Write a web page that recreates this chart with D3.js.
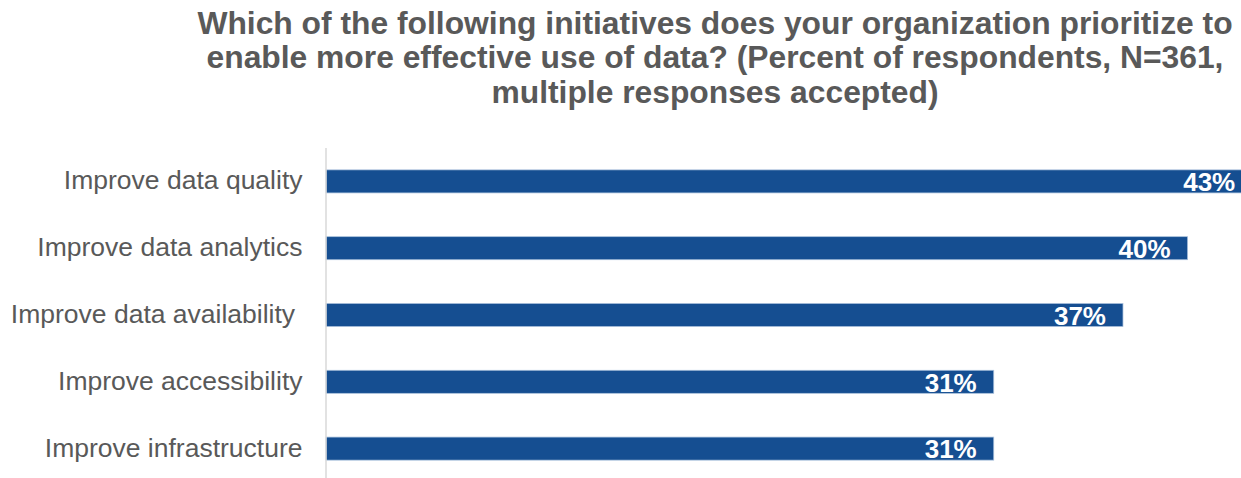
<!DOCTYPE html>
<html>
<head>
<meta charset="utf-8">
<script src="https://cdn.jsdelivr.net/npm/d3@7"></script>
<style>
  body { margin: 0; background: #fff; }
  svg { display: block; font-family: "Liberation Sans", Arial, sans-serif; }
</style>
</head>
<body>
<svg id="chart" width="1241" height="478"></svg>
<script>
var categories = [
	"Improve data quality",
	"Improve data analytics",
	"Improve data availability ",
	"Improve accessibility",
	"Improve infrastructure"
];
var values = [43, 40, 37, 31, 31];
var titleLines = [
	"Which of the following initiatives does your organization prioritize to",
	"enable more effective use of data? (Percent of respondents, N=361,",
	"multiple responses accepted)"
];

var svg = d3.select("#chart");
var x0 = 326;

var xScale = d3.scaleLinear()
			.domain([0, 50])
			.range([x0, x0 + 1077]);

var yScale = d3.scaleBand()
			.domain(categories)
			.range([148, 482])
			.paddingInner(0.655)
			.paddingOuter(0.3275);

// title
svg.append("g")
	.selectAll("text")
	.data(titleLines)
	.enter().append("text")
	.attr("x", 715)
	.attr("y", function(d, i){ return 34.3 + i * 34.1; })
	.attr("text-anchor", "middle")
	.attr("font-size", "31.8px")
	.attr("font-weight", "bold")
	.attr("fill", "#595959")
	.text(function(d){ return d; });

// bars
svg.append("g")
	.selectAll("rect")
	.data(values)
	.enter().append("rect")
	.attr("x", xScale(0))
	.attr("y", function(d, i){ return yScale(categories[i]); })
	.attr("width", function(d){ return xScale(d) - xScale(0); })
	.attr("height", yScale.bandwidth())
	.attr("fill", "#154e91")
	.attr("stroke", "#a9c0dc")
	.attr("stroke-width", 0.75);

// value labels
svg.append("g")
	.selectAll("text")
	.data(values)
	.enter().append("text")
	.attr("x", function(d){ return xScale(d) - 17; })
	.attr("y", function(d, i){ return yScale(categories[i]) + yScale.bandwidth() / 2; })
	.attr("dy", "0.38em")
	.attr("text-anchor", "end")
	.attr("font-size", "26px")
	.attr("font-weight", "bold")
	.attr("fill", "#fff")
	.text(function(d){ return d + "%"; });

// y axis
var yAxis = d3.axisLeft(yScale).tickSize(0).tickPadding(23.5);
var y_axis = svg.append("g")
	.attr("transform", "translate(" + x0 + ",0)")
	.call(yAxis);
y_axis.select(".domain").remove();
y_axis.selectAll("text")
	.attr("font-size", "26.5px")
	.attr("font-family", "'Liberation Sans', Arial, sans-serif")
	.attr("fill", "#595959")
	.attr("dy", "0.3em")
	.style("white-space", "pre");

svg.append("line")
	.attr("x1", x0).attr("x2", x0)
	.attr("y1", 148).attr("y2", 478)
	.attr("stroke", "#d9d9d9")
	.attr("stroke-width", 1.5);
</script>
</body>
</html>
